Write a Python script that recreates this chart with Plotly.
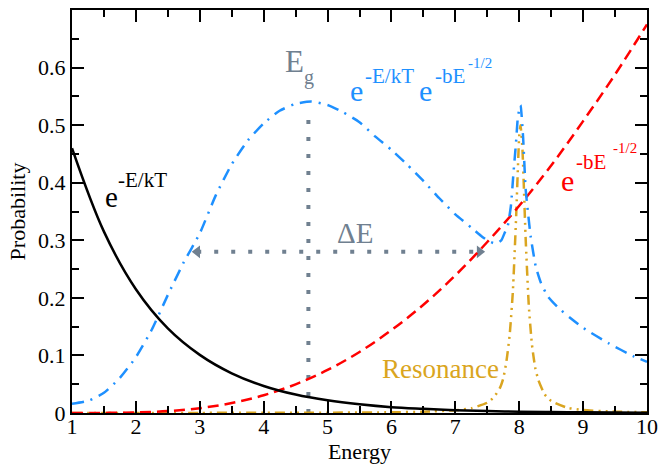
import plotly.graph_objects as go

# ---------------- data ----------------
energy_black = [1, 1.5, 2, 2.5, 3, 3.5, 4, 4.5, 5, 5.5, 6, 6.5, 7, 7.5, 8, 8.5, 9, 9.5, 10]
prob_black = [0.46, 0.315, 0.215, 0.147, 0.101, 0.069, 0.047, 0.032, 0.022, 0.015,
              0.010, 0.0072, 0.0049, 0.0034, 0.0023, 0.0016, 0.0011, 0.0007, 0.0005]

energy_red = [1, 1.5, 2, 2.5, 3, 3.5, 4, 4.5, 5, 5.5, 6, 6.5, 7, 7.5, 8, 8.5, 9, 9.5, 10]
prob_red = [0.0, 0.00015, 0.0009, 0.0033, 0.0084, 0.0173, 0.0308, 0.0498, 0.0747, 0.106,
            0.144, 0.188, 0.239, 0.297, 0.360, 0.430, 0.507, 0.588, 0.675]

energy_blue = [1.0, 1.25, 1.5, 1.75, 2.0, 2.25, 2.5, 2.75, 3.0, 3.25, 3.5, 3.75, 4.0, 4.25,
               4.5, 4.75, 5.0, 5.25, 5.5, 5.75, 6.0, 6.25, 6.5, 6.75, 7.0, 7.25, 7.4, 7.5,
               7.6, 7.66, 7.72, 7.78, 7.82, 7.87, 7.91, 7.95, 7.98, 8.02, 8.06, 8.1, 8.14,
               8.18, 8.26, 8.34, 8.45, 8.6, 8.8, 9.0, 9.4, 9.8, 10.0]
prob_blue = [0.016, 0.021, 0.035, 0.061, 0.097, 0.145, 0.205, 0.262, 0.312, 0.378, 0.432,
             0.473, 0.503, 0.525, 0.537, 0.541, 0.535, 0.522, 0.505, 0.480, 0.457, 0.431,
             0.403, 0.373, 0.345, 0.322, 0.308, 0.300, 0.295, 0.295, 0.300, 0.315, 0.325,
             0.360, 0.417, 0.470, 0.515, 0.535, 0.480, 0.390, 0.345, 0.306, 0.254, 0.226,
             0.202, 0.184, 0.165, 0.148, 0.121, 0.098, 0.089]

energy_res = [1, 2, 3, 4, 5, 6, 6.5, 7, 7.25, 7.5, 7.6, 7.7, 7.75, 7.8, 7.85, 7.9, 7.95,
              8.0, 8.02, 8.05, 8.1, 8.15, 8.2, 8.25, 8.3, 8.4, 8.5, 8.75, 9, 9.5, 10]
prob_res = [0.0001, 0.00014, 0.0002, 0.0003, 0.00055, 0.0012, 0.0022, 0.0048, 0.0083,
            0.018, 0.027, 0.044, 0.060, 0.090, 0.135, 0.210, 0.336, 0.481, 0.500, 0.459,
            0.305, 0.186, 0.118, 0.079, 0.057, 0.032, 0.021, 0.0092, 0.0052, 0.0023, 0.0013]

# Gamow peak markers
e_gamow = 4.7
gamow_top = 0.515
delta_left = 2.96
delta_right = 7.38
delta_level = 0.28

x_ticks = [1, 2, 3, 4, 5, 6, 7, 8, 9, 10]
x_ticktext = ["1", "2", "3", "4", "5", "6", "7", "8", "9", "10"]
y_ticks = [0, 0.1, 0.2, 0.3, 0.4, 0.5, 0.6]
y_ticktext = ["0", "0.1", "0.2", "0.3", "0.4", "0.5", "0.6"]

# ---------------- styles ----------------
FONT = "Times New Roman, Liberation Serif, DejaVu Serif, serif"
BLUE = "#1E90FF"
RED = "#FF0000"
GOLD = "#DAA520"
GRAY = "#708090"

fig = go.Figure()

# dotted Gamow window lines
fig.add_trace(go.Scatter(x=[e_gamow, e_gamow], y=[0, gamow_top], mode="lines",
                         line=dict(color=GRAY, width=4, dash="4px,13px"),
                         hoverinfo="skip", showlegend=False))
fig.add_trace(go.Scatter(x=[delta_left, delta_right], y=[delta_level, delta_level], mode="lines",
                         line=dict(color=GRAY, width=4, dash="4px,13px"),
                         hoverinfo="skip", showlegend=False))
fig.add_trace(go.Scatter(x=[delta_left, delta_right], y=[delta_level, delta_level], mode="markers",
                         marker=dict(symbol=["triangle-left", "triangle-right"], size=11,
                                     color=GRAY, line=dict(width=0)),
                         hoverinfo="skip", showlegend=False))

fig.add_trace(go.Scatter(x=energy_res, y=prob_res, mode="lines", line_shape="spline",
                         line=dict(color=GOLD, width=2.5, dash="10px,5px,2px,5px,2px,5px",
                                   smoothing=0.5),
                         showlegend=False))
fig.add_trace(go.Scatter(x=energy_red, y=prob_red, mode="lines", line_shape="spline",
                         line=dict(color=RED, width=2.5, dash="11px,6px"), showlegend=False))
fig.add_trace(go.Scatter(x=energy_blue, y=prob_blue, mode="lines", line_shape="spline",
                         line=dict(color=BLUE, width=2.5, dash="12px,7px,2px,7px", smoothing=0.5),
                         showlegend=False))
fig.add_trace(go.Scatter(x=energy_black, y=prob_black, mode="lines", line_shape="spline",
                         line=dict(color="black", width=2.5), showlegend=False))


def label(text, x, y, size, color):
    fig.add_annotation(x=x, y=y, xref="x", yref="y", text=text, showarrow=False,
                       xanchor="left", yanchor="middle",
                       font=dict(family=FONT, size=size, color=color))


# e^{-E/kT}
label("e", 1.486, 0.375, 29, "black")
label("-E/kT", 1.69, 0.4045, 21, "black")
# E_g
label("E", 4.307, 0.610, 31, GRAY)
label("g", 4.605, 0.582, 20, GRAY)
# e^{-E/kT} e^{-bE^{-1/2}}
label("e", 5.326, 0.561, 30, BLUE)
label("-E/kT", 5.561, 0.585, 21, BLUE)
label("e", 6.407, 0.561, 30, BLUE)
label("-bE", 6.643, 0.585, 21, BLUE)
label("-1/2", 7.16, 0.608, 15, BLUE)
# e^{-bE^{-1/2}}
label("e", 8.618, 0.4045, 30, RED)
label("-bE", 8.853, 0.436, 21, RED)
label("-1/2", 9.433, 0.46, 15, RED)
# Delta E
label("ΔE", 5.122, 0.3125, 29, GRAY)
# Resonance
label("Resonance", 5.828, 0.0764, 27, GOLD)

axis_common = dict(showgrid=False, zeroline=False, showline=True, linecolor="black",
                   linewidth=2, mirror="allticks", ticks="inside", tickcolor="black",
                   tickwidth=1.5, ticklen=12, automargin=False,
                   tickfont=dict(family=FONT, size=22, color="black"))

fig.update_xaxes(range=[1, 10], tickvals=x_ticks, ticktext=x_ticktext, ticklabelstandoff=-7,
                 minor=dict(dtick=0.5, ticks="inside", ticklen=7, tickcolor="black", tickwidth=1.5),
                 title=dict(text="Energy", font=dict(family=FONT, size=22, color="black"), standoff=0),
                 **axis_common)
fig.update_yaxes(range=[0, 0.7], tickvals=y_ticks, ticktext=y_ticktext,
                 minor=dict(dtick=0.05, ticks="inside", ticklen=7, tickcolor="black", tickwidth=1.5),
                 title=dict(text="Probability", font=dict(family=FONT, size=22, color="black"), standoff=6),
                 **axis_common)

fig.update_layout(width=662, height=464, margin=dict(l=72, r=15, t=10, b=51),
                  plot_bgcolor="white", paper_bgcolor="white", showlegend=False)

fig.write_html("out.html")
